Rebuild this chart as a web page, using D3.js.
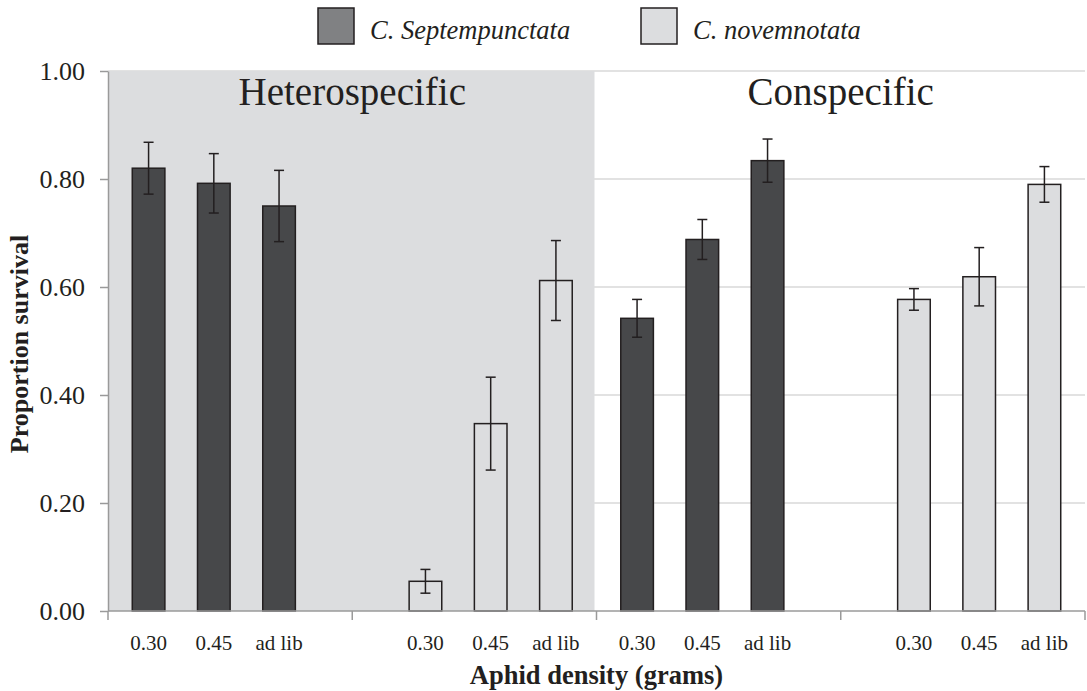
<!DOCTYPE html>
<html lang="en">
<head>
<meta charset="UTF-8">
<title>Proportion survival by aphid density</title>
<script src="https://d3js.org/d3.v7.min.js"></script>
<style>
    body { margin: 0; background: #fff; }
    svg text { font-family: "Liberation Serif", "Times New Roman", serif; fill: #231f20; }
</style>
</head>
<body>
<div id="chart"></div>
<script>
// data
const levels = ["0.30", "0.45", "ad lib"];
const species = ["C. Septempunctata", "C. novemnotata"];
const treatments = ["Heterospecific", "Conspecific"];

const heteroSeptMean = [0.820, 0.792, 0.750];
const heteroSeptErr  = [0.048, 0.055, 0.066];
const heteroNoveMean = [0.055, 0.347, 0.612];
const heteroNoveErr  = [0.022, 0.086, 0.074];
const conSeptMean    = [0.542, 0.688, 0.834];
const conSeptErr     = [0.035, 0.037, 0.040];
const conNoveMean    = [0.577, 0.619, 0.790];
const conNoveErr     = [0.020, 0.054, 0.033];

const yTicks = [0, 0.2, 0.4, 0.6, 0.8, 1.0];

// one block per treatment x species
const groups = [
    { key: "h-s", treatment: treatments[0], sp: species[0], mean: heteroSeptMean, err: heteroSeptErr },
    { key: "h-n", treatment: treatments[0], sp: species[1], mean: heteroNoveMean, err: heteroNoveErr },
    { key: "c-s", treatment: treatments[1], sp: species[0], mean: conSeptMean, err: conSeptErr },
    { key: "c-n", treatment: treatments[1], sp: species[1], mean: conNoveMean, err: conNoveErr }
];

const bars = [];
groups.forEach(g => {
    levels.forEach((lv, i) => {
        bars.push({ group: g.key, treatment: g.treatment, sp: g.sp, level: lv, value: g.mean[i], err: g.err[i] });
    });
});

const W = 1087, H = 691;
const plot = { left: 108, right: 1085, top: 71, bottom: 611 };

const svg = d3.select("#chart").append("svg")
    .attr("width", W)
    .attr("height", H);

const colors = { dark: "#47484a", light: "#dcdddf", legendDark: "#808183", ink: "#231f20", axis: "#9a9a9a", grid: "#d9d9d9" };
const fillOf = d3.scaleOrdinal().domain(species).range([colors.dark, colors.light]);
const legendFill = d3.scaleOrdinal().domain(species).range([colors.legendDark, colors.light]);

// scales
const y = d3.scaleLinear().domain([0, 1]).range([plot.bottom, plot.top]);
const x0 = d3.scaleBand().domain(groups.map(g => g.key)).range([plot.left, plot.right]).padding(0);
const x1 = d3.scaleBand().domain(levels).range([0, x0.bandwidth()]).paddingInner(0).paddingOuter(0.372);
const x2 = d3.scaleBand().domain(species).range([0, x1.bandwidth()]).padding(0);
const xt = d3.scaleBand().domain(treatments).range([plot.left, plot.right]);

const barX = d => x0(d.group) + x1(d.level) + x2(d.sp);
const barMid = d => barX(d) + x2.bandwidth() / 2;

// gridlines
svg.append("g")
    .selectAll("line")
    .data(yTicks.slice(1))
    .join("line")
    .attr("x1", plot.left)
    .attr("x2", plot.right)
    .attr("y1", d => y(d))
    .attr("y2", d => y(d))
    .attr("stroke", colors.grid)
    .attr("stroke-width", 1.5);

// heterospecific panel shading
svg.append("rect")
    .attr("x", xt(treatments[0]))
    .attr("y", y(1))
    .attr("width", xt.bandwidth() - 2)
    .attr("height", y(0) - y(1))
    .attr("fill", colors.light);

// panel titles
svg.append("g")
    .selectAll("text")
    .data(treatments)
    .join("text")
    .attr("x", d => xt(d) + xt.bandwidth() / 2)
    .attr("y", 105)
    .attr("text-anchor", "middle")
    .attr("font-size", "39px")
    .text(d => d);

// bars
svg.append("g")
    .selectAll("rect")
    .data(bars)
    .join("rect")
    .attr("x", d => barX(d))
    .attr("y", d => y(d.value))
    .attr("width", x2.bandwidth())
    .attr("height", d => y(0) - y(d.value))
    .attr("fill", d => fillOf(d.sp))
    .attr("stroke", colors.ink)
    .attr("stroke-width", 1.5);

// error bars
const capW = 5;
const eb = svg.append("g")
    .attr("stroke", colors.ink)
    .attr("stroke-width", 1.5)
    .selectAll("g")
    .data(bars)
    .join("g");

eb.append("line")
    .attr("x1", d => barMid(d))
    .attr("x2", d => barMid(d))
    .attr("y1", d => y(d.value + d.err))
    .attr("y2", d => y(d.value - d.err));
eb.append("line")
    .attr("x1", d => barMid(d) - capW)
    .attr("x2", d => barMid(d) + capW)
    .attr("y1", d => y(d.value + d.err))
    .attr("y2", d => y(d.value + d.err));
eb.append("line")
    .attr("x1", d => barMid(d) - capW)
    .attr("x2", d => barMid(d) + capW)
    .attr("y1", d => y(d.value - d.err))
    .attr("y2", d => y(d.value - d.err));

// y axis
const yAxis = svg.append("g")
    .attr("transform", `translate(${plot.left},0)`)
    .call(d3.axisLeft(y).tickValues(yTicks).tickFormat(d3.format(".2f")).tickSize(8).tickSizeOuter(0).tickPadding(15));
yAxis.select(".domain").attr("stroke", colors.axis).attr("stroke-width", 1.5);
yAxis.selectAll(".tick line").attr("stroke", colors.axis).attr("stroke-width", 1.5);
yAxis.selectAll(".tick text")
    .attr("font-size", "26px")
    .attr("font-family", "Liberation Serif, Times New Roman, serif")
    .attr("fill", colors.ink);

// x axis baseline and group separators
svg.append("line")
    .attr("x1", plot.left)
    .attr("x2", plot.right)
    .attr("y1", plot.bottom)
    .attr("y2", plot.bottom)
    .attr("stroke", colors.axis)
    .attr("stroke-width", 1.5);

const sepX = x0.domain().map(k => x0(k)).concat([plot.right]);
svg.append("g")
    .selectAll("line")
    .data(sepX)
    .join("line")
    .attr("x1", d => d)
    .attr("x2", d => d)
    .attr("y1", plot.bottom)
    .attr("y2", plot.bottom + 9)
    .attr("stroke", colors.axis)
    .attr("stroke-width", 1.5);

// x tick labels under the bar of each block
svg.append("g")
    .selectAll("text")
    .data(bars)
    .join("text")
    .attr("x", d => barMid(d))
    .attr("y", 650)
    .attr("text-anchor", "middle")
    .attr("font-size", "21px")
    .text(d => d.level);

// axis titles
svg.append("text")
    .attr("x", (plot.left + plot.right) / 2)
    .attr("y", 684)
    .attr("text-anchor", "middle")
    .attr("font-size", "26.5px")
    .attr("font-weight", "bold")
    .text("Aphid density (grams)");

svg.append("text")
    .attr("transform", "translate(28,344) rotate(-90)")
    .attr("text-anchor", "middle")
    .attr("font-size", "26px")
    .attr("font-weight", "bold")
    .text("Proportion survival");

// legend
const legendX = [318, 641];
const lg = svg.append("g")
    .selectAll("g")
    .data(species)
    .join("g")
    .attr("transform", (d, i) => `translate(${legendX[i]},8)`);
lg.append("rect")
    .attr("width", 36)
    .attr("height", 36)
    .attr("fill", d => legendFill(d))
    .attr("stroke", colors.ink)
    .attr("stroke-width", 1.5);
lg.append("text")
    .attr("x", 52)
    .attr("y", 31)
    .attr("font-size", "26.5px")
    .attr("font-style", "italic")
    .text(d => d);
</script>
</body>
</html>
